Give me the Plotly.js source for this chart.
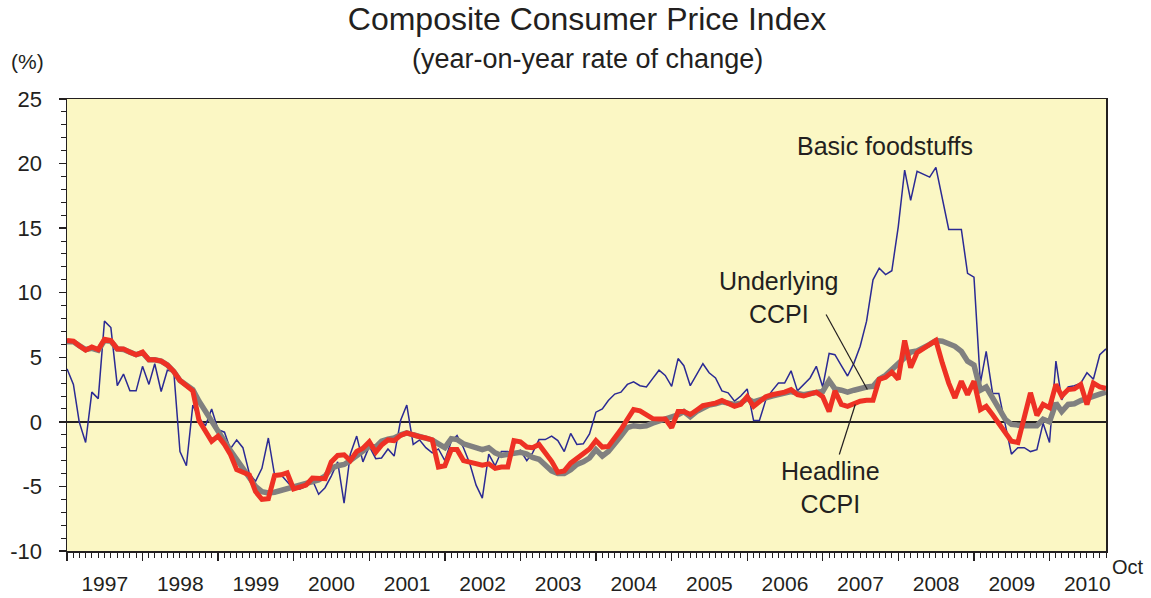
<!DOCTYPE html>
<html>
<head>
<meta charset="utf-8">
<script src="https://cdn.plot.ly/plotly-3.0.1.min.js"></script>
<style>html,body{margin:0;padding:0;background:#fff;}#chart{width:1151px;height:598px;}</style>
</head>
<body>
<div id="chart"></div>
<script>
// Monthly observations, Jan 1997 to Oct 2010
const startYear = 1997;
const monthCount = 166;

const basicFoodstuffs = [
  4.1, 2.9, 0.0, -1.6, 2.3, 1.8, 7.8, 7.3, 2.8, 3.7, 2.4, 2.4,
  4.3, 2.9, 4.5, 2.35, 4.0, 3.9, -2.3, -3.4, 1.3, 0.3, -0.3, 1.0,
  -0.6, -0.8, -2.1, -1.4, -2.0, -4.0, -4.6, -3.6, -1.25, -4.1, -4.1, -4.6,
  -5.2, -5.2, -5.0, -4.5, -5.6, -5.1, -4.2, -3.1, -6.3, -2.5, -1.1, -3.1,
  -1.9, -2.85, -2.8, -2.1, -2.65, 0.1, 1.3, -1.75, -1.4, -2.0, -2.4, -2.1,
  -3.0, -1.5, -1.05, -2.0, -3.2, -4.9, -5.9, -2.5, -3.4, -2.3, -2.3, -2.45,
  -2.2, -3.0, -2.4, -1.37, -1.37, -1.1, -1.45, -2.3, -0.9, -1.75, -1.7, -0.93,
  0.75, 1.0, 1.65, 2.15, 2.3, 2.9, 3.1, 2.8, 2.7, 3.35, 4.0, 3.6,
  2.75, 4.9, 4.35, 2.8, 3.65, 4.5, 3.8, 3.4, 2.4, 2.25, 1.6, 2.0,
  2.55, 0.1, 0.1, 1.7, 2.4, 3.0, 3.0, 3.95, 2.4, 2.9, 3.4, 4.3,
  2.7, 5.3, 5.2, 4.35, 3.55, 4.55, 5.85, 7.8, 11.0, 11.9, 11.4, 11.7,
  15.1, 19.5, 17.15, 19.4, 19.2, 18.95, 19.7, 17.35, 14.9, 14.9, 14.9, 11.5,
  11.2, 3.0, 5.45, 2.2, 2.2, -0.2, -2.5, -2.0, -2.0, -2.3, -2.15, -0.1,
  -1.6, 4.7, 1.7, 2.7, 2.8, 3.0, 3.8, 3.3, 5.2, 5.65
];

const headlineCCPI = [
  6.3, 6.25, 5.9, 5.55, 5.8, 5.6, 6.4, 6.3, 5.65, 5.65, 5.4, 5.2,
  5.4, 4.8, 4.8, 4.7, 4.4, 3.9, 3.2, 2.8, 2.4, 0.1, -0.7, -1.5,
  -1.1, -1.75, -2.5, -3.7, -3.9, -4.1, -5.4, -6.0, -5.95, -4.15, -4.1, -3.95,
  -5.2, -5.0, -4.9, -4.35, -4.4, -4.4, -3.1, -2.6, -2.55, -3.0, -2.3, -2.05,
  -1.55, -2.35, -1.8, -1.4, -1.45, -1.05, -0.85, -1.05, -1.15, -1.25, -1.4, -3.5,
  -3.4, -2.15, -2.15, -3.0, -3.1, -3.3, -3.35, -3.25, -3.6, -3.5, -3.5, -1.45,
  -1.55, -1.95, -2.0, -1.75, -2.4, -3.05, -3.9, -3.8, -3.2, -2.8, -2.45, -2.1,
  -1.45, -1.95, -1.9, -1.25, -0.6, 0.2, 0.95, 0.85, 0.5, 0.25, 0.23, 0.23,
  -0.45, 0.8, 0.8, 0.57, 0.9, 1.25, 1.35, 1.45, 1.65, 1.4, 1.2, 1.35,
  1.95, 1.2, 1.6, 1.95, 2.1, 2.2, 2.3, 2.5, 2.1, 2.0, 2.2, 2.3,
  1.95, 0.8, 2.4, 1.35, 1.2, 1.4, 1.6, 1.67, 1.67, 3.3, 3.45, 3.85,
  3.3, 6.3, 4.2, 5.35, 5.65, 6.0, 6.3, 4.55, 3.0, 1.85, 3.15, 2.1,
  3.15, 0.95, 1.2, 0.55, -0.1, -0.85, -1.5, -1.6, 0.4, 2.25, 0.5, 1.35,
  1.1, 2.9, 2.0, 2.5, 2.55, 2.9, 1.35, 3.0, 2.7, 2.6
];

const underlyingCCPI = [
  6.2, 6.2, 5.9, 5.6, 5.7, 5.55, 6.3, 6.25, 5.65, 5.6, 5.4, 5.2,
  5.35, 4.8, 4.8, 4.7, 4.4, 3.9, 3.2, 2.8, 2.5, 1.6, 0.8, -0.1,
  -0.85, -1.5, -2.2, -2.9, -3.6, -4.3, -5.0, -5.4, -5.5, -5.45, -5.3, -5.2,
  -5.1, -4.9, -4.8, -4.55, -4.5, -4.2, -3.6, -3.4, -3.3, -3.0, -2.6, -2.3,
  -1.9, -1.95, -1.5, -1.35, -1.25, -1.0, -0.85, -1.0, -1.1, -1.25, -1.4, -1.7,
  -2.0, -1.3, -1.37, -1.7, -1.85, -2.0, -2.15, -2.0, -2.4, -2.6, -2.5, -2.5,
  -2.35, -2.5, -2.75, -2.9, -3.3, -3.8, -4.0, -4.0, -3.7, -3.3, -3.1, -2.8,
  -2.15, -2.65, -2.3, -1.6, -1.1, -0.45, -0.3, -0.35, -0.3, -0.1, 0.05, 0.2,
  0.4, 0.55, 0.8, 0.4, 0.8, 1.1, 1.3, 1.4, 1.55, 1.45, 1.35, 1.45,
  1.8, 1.55, 1.65, 1.85, 2.0, 2.1, 2.2, 2.35, 2.2, 2.1, 2.2, 2.25,
  2.35, 3.2, 2.55, 2.45, 2.3, 2.45, 2.6, 2.7, 2.75, 3.3, 3.6, 4.05,
  4.55, 5.1, 5.4, 5.5, 5.7, 6.0, 6.3, 6.25, 6.05, 5.85, 5.45, 4.7,
  4.4, 2.45, 2.7, 1.85, 1.1, 0.2, -0.2, -0.3, -0.3, -0.3, -0.3, 0.2,
  0.0, 1.45, 0.8, 1.35, 1.4, 1.65, 1.85, 2.0, 2.15, 2.3
];

const yTickVals = [-10, -5, 0, 5, 10, 15, 20, 25];
const yTickText = ['-10', '-5', '0', '5', '10', '15', '20', '25'];

const months = [];
for (let i = 0; i < monthCount; i++) {
  const y = startYear + Math.floor(i / 12);
  const m = (i % 12) + 1;
  months.push(y + '-' + String(m).padStart(2, '0') + '-01');
}

const ink = '#231F20';
const FONT = 'Liberation Sans, Arial, Helvetica, sans-serif';

const traces = [
  {x: months, y: basicFoodstuffs, type: 'scatter', mode: 'lines', name: 'Basic foodstuffs',
   line: {color: '#2B2A94', width: 1.5}, hoverinfo: 'skip'},
  {x: months, y: underlyingCCPI, type: 'scatter', mode: 'lines', name: 'Underlying CCPI',
   line: {color: '#808080', width: 5.5}, hoverinfo: 'skip'},
  {x: months, y: headlineCCPI, type: 'scatter', mode: 'lines', name: 'Headline CCPI',
   line: {color: '#EE3124', width: 5}, hoverinfo: 'skip'}
];

const layout = {
  width: 1151, height: 598,
  margin: {l: 67, r: 45, t: 99, b: 47},
  paper_bgcolor: '#ffffff',
  plot_bgcolor: '#FBF7C4',
  showlegend: false,
  font: {family: FONT, color: ink, size: 21},
  title: {text: 'Composite Consumer Price Index', font: {family: FONT, size: 32, color: ink},
          x: 0.5005, xanchor: 'center', y: 0.968, yanchor: 'middle', xref: 'paper'},
  xaxis: {
    type: 'date',
    range: ['1997-01-01', '2010-10-01'],
    tick0: '1997-01-01', dtick: 'M12', tickformat: '%Y',
    ticklabelmode: 'period',
    ticks: 'outside', ticklen: 8, tickwidth: 1.3, tickcolor: ink,
    minor: {dtick: 'M1', ticks: 'outside', ticklen: 5, tickwidth: 1, tickcolor: ink, showgrid: false},
    showline: true, linecolor: ink, linewidth: 1.5, mirror: true,
    showgrid: false, zeroline: false,
    tickfont: {family: FONT, size: 21, color: ink},
    ticklabelstandoff: 5
  },
  yaxis: {
    range: [-10, 25],
    tickvals: yTickVals, ticktext: yTickText,
    ticks: 'outside', ticklen: 7, tickwidth: 1.3, tickcolor: ink,
    minor: {dtick: 1, ticks: 'outside', ticklen: 5, tickwidth: 1, tickcolor: ink, showgrid: false},
    showline: true, linecolor: ink, linewidth: 1.5, mirror: true,
    showgrid: false,
    zeroline: true, zerolinecolor: ink, zerolinewidth: 1.5,
    tickfont: {family: FONT, size: 22, color: ink},
    ticklabelstandoff: 12
  },
  annotations: [
    {text: '(year-on-year rate of change)', xref: 'paper', yref: 'paper', x: 0.5005, y: 1.088,
     xanchor: 'center', yanchor: 'middle', showarrow: false, font: {family: FONT, size: 27, color: ink}},
    {text: '(%)', xref: 'paper', yref: 'paper', x: -0.0382, y: 1.083,
     xanchor: 'center', yanchor: 'middle', showarrow: false, font: {family: FONT, size: 21, color: ink}},
    {text: 'Oct', xref: 'paper', yref: 'paper', x: 1.0215, y: -0.035,
     xanchor: 'center', yanchor: 'middle', showarrow: false, font: {family: FONT, size: 20, color: ink}},
    {text: 'Basic foodstuffs', xref: 'paper', yref: 'paper', x: 0.7875, y: 0.895,
     xanchor: 'center', yanchor: 'middle', showarrow: false, font: {family: FONT, size: 25, color: ink}},
    {text: 'Underlying<br>CCPI', xref: 'paper', yref: 'paper', x: 0.6856, y: 0.561,
     xanchor: 'center', yanchor: 'middle', showarrow: false, font: {family: FONT, size: 25, color: ink}},
    {text: 'Headline<br>CCPI', xref: 'paper', yref: 'paper', x: 0.7347, y: 0.1405,
     xanchor: 'center', yanchor: 'middle', showarrow: false, font: {family: FONT, size: 25, color: ink}}
  ],
  shapes: [
    {type: 'line', xref: 'paper', yref: 'paper', x0: 0.7306, y0: 0.5232, x1: 0.7703, y1: 0.3573,
     line: {color: ink, width: 1.2}},
    {type: 'line', xref: 'paper', yref: 'paper', x0: 0.7433, y0: 0.2135, x1: 0.7587, y1: 0.3241,
     line: {color: ink, width: 1.2}}
  ]
};

Plotly.newPlot('chart', traces, layout, {displayModeBar: false, staticPlot: true});
</script>
</body>
</html>
